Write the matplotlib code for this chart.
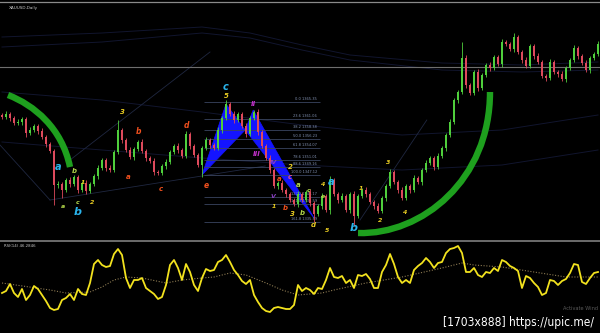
import matplotlib
matplotlib.use('Agg')
import matplotlib.pyplot as plt
from matplotlib.path import Path
from matplotlib.patches import PathPatch, Polygon
import numpy as np

# ---------------- data ----------------
first_open = 125
closes = [123,126,122,117,118,121,107,110,114,109,
          103,96,89,55,56,50,60,56,63,50,
          57,49,56,64,72,80,72,70,88,110,
          100,90,83,91,98,89,82,79,68,67,
          74,78,88,94,90,84,106,94,85,75,
          92,100,95,92,110,122,136,126,120,126,
          114,106,122,128,108,94,82,70,54,57,
          50,46,40,36,46,40,48,37,26,34,
          44,30,60,46,40,44,30,46,24,44,
          50,46,38,34,29,42,54,68,58,50,
          42,54,50,62,58,70,77,82,73,84,
          92,105,118,140,148,182,155,147,168,152,
          165,175,172,183,176,198,196,191,203,188,
          180,174,194,184,178,164,162,178,168,166,
          161,172,180,192,184,177,170,182,186,196]
upper_wick = [2,3,2,2,3,2,2,3,2,2, 3,2,2,2,3,2,2,3,2,2, 2,3,2,2,3,2,2,3,2,10,
              2,2,3,2,2,3,2,2,3,2, 2,3,2,2,3,2,3,2,2,2, 2,3,2,2,3,2,4,2,3,2,
              2,3,2,2,3,2,2,3,2,2, 3,2,2,2,3,2,2,3,2,2, 3,2,4,2,2,3,2,2,3,2,
              2,3,2,2,3,2,2,3,2,2, 3,2,2,3,2,2,3,2,2,3, 2,2,3,2,2,16,3,2,2,3,
              2,2,3,2,2,3,2,2,4,2, 2,3,2,2,3,2,2,3,2,2, 3,2,2,3,2,2,3,2,2,3]
lower_wick = [2,2,3,2,2,3,4,2,2,3, 2,3,2,20,3,8,2,3,2,3, 2,3,2,2,3,2,3,2,2,2,
              3,2,2,3,2,2,3,2,3,2, 2,3,2,2,3,2,2,3,2,2, 12,2,3,2,2,3,2,2,3,2,
              2,3,2,2,3,2,2,3,2,3, 2,3,2,2,3,2,2,3,8,2, 3,2,4,2,3,2,2,3,10,2,
              2,3,2,3,2,2,3,2,2,3, 2,2,3,2,2,3,2,2,3,2, 2,3,2,2,3,2,3,2,2,3,
              2,2,3,2,2,3,2,2,3,2, 3,2,2,3,2,2,3,2,2,3, 2,3,2,2,3,2,2,3,2,2]

rsi = [40,42,49,40,36,44,33,38,47,44, 38,32,25,23,24,33,35,39,33,44,
       39,38,50,69,73,68,66,67,79,84, 78,55,45,53,53,55,45,42,39,34,
       36,48,68,73,65,53,69,61,48,42, 55,64,62,63,71,73,78,71,63,58,
       52,49,53,38,31,25,22,21,25,26, 25,24,24,28,48,42,45,43,39,45,
       44,53,65,56,55,57,50,53,45,58, 57,59,54,45,45,61,68,79,69,56,
       50,53,50,63,67,70,75,71,65,70, 71,80,84,85,87,80,61,61,65,58,
       56,61,60,65,62,73,71,67,65,62, 45,57,55,50,46,38,40,53,52,48,
       52,54,60,69,68,51,49,55,60,61]
rsi_ma_t = [0,12,16,22,25,28,31,35,41,45,50,53,57,61,66,70,74,80,83,91,100,110,115,118,125,133,141,149]
rsi_ma = [50,43,40,41,46,53,56,55,50,53,55,56,60,58,50,43,38,40,43,50,56,65,70,68,66,61,56,56]

# harmonic pattern X A B C D
pat_t = [50, 56, 60.8, 62.8, 78]
pat_p = [65, 136, 110, 130, 22]

fib_p = [138, 121, 110, 101, 92, 80, 73, 65, 43, 36, 18]
fib_labels = ['0.0 1365.35', '23.6 1361.06', '38.2 1358.38', '50.0 1356.23',
              '61.8 1354.07', '78.6 1351.01', '88.6 1349.16', '100.0 1347.12',
              '127.2 1342.17', '141.4 1339.59', '161.8 1335.89']

# wave labels
lab_text = ['a','b','1','a','c','b','2','3','b','a','c','d','c','5','II','III','IV','e',
            '2','a','c','a','c','e','4','a','V','1','b','3','b','d','5','b','1','2','3','4']
lab_t = [14,18,20.2,15.2,18.8,18.8,22.5,30,34.2,31.5,39.8,46.2,56,56,62.8,63.8,67.8,51,
         72,69.2,72,74,76.6,80.2,80.4,82.2,67.8,68,70.8,72.6,75,77.8,81.2,88,89.8,94.5,96.5,100.8]
lab_p = [73,69,58,34,37,28,38,128,108,63,51,114,153,144,136,86,77,54,
         73,61,63,55,49,44,56,58,43,33,32,26,27,15,9,12,52,20,77,28]
CY, YE, OR, LG, MG, PU, PK = '#2ab4ec', '#e8cc22', '#f0501e', '#b4d84a', '#c030c8', '#8a40c0', '#e05090'
lab_col = [CY,LG,YE,LG,LG,CY,YE,YE,OR,OR,OR,OR,CY,YE,MG,MG,PU,OR,
           YE,OR,PK,LG,LG,LG,YE,CY,PU,YE,OR,YE,LG,YE,YE,CY,YE,YE,YE,YE]
lab_size = [7,5,4.5,4.5,4.5,8,4.5,5,5.5,5,5,5.5,7,5,5,5,4.5,5.5,
            5,5,5,5,4.5,4.5,4.5,7,4.5,4.5,5,5,5,5,4.5,8,4.5,4.5,4.5,4.5]

# faint envelope bands and trend lines
band_t = [0, 25, 50, 62, 75, 87, 110, 130, 149]
band1 = [203, 207, 213, 207, 195, 185, 177, 175, 178]
band2 = [193, 198, 207, 202, 190, 180, 170, 168, 170]
band_t2 = [0, 25, 50, 75, 100, 125, 149]
band3 = [148, 140, 128, 115, 105, 110, 125]
band4 = [98, 90, 82, 75, 70, 75, 90]
trend_lines = [((17, 80), (52, 188)), ((-0.5, 95), (12, 40)),
               ((12, 40), (65.8, 74)), ((89.5, 20), (106.2, 120))]

# thick green swing curves (cubic bezier control points)
curve_left = [(1.5, 145), (8, 135), (15, 112), (17, 73)]
curve_right = [(89, 7), (105, 5), (122, 60), (122, 148)]

# ---------------- figure ----------------
fig = plt.figure(figsize=(6, 3.33), dpi=100, facecolor='black')
ax = fig.add_axes([0, 93/333, 1, 240/333], facecolor='black')
ax2 = fig.add_axes([0, 0, 1, 90/333], facecolor='black')
for a in (ax, ax2):
    a.set_xticks([]); a.set_yticks([])
    for s in a.spines.values():
        s.set_visible(False)
    a.set_xlim(-0.5, 149.5)
ax.set_ylim(0, 240)
ax2.set_ylim(0, 90)

n = len(closes)
idx = np.arange(n)
c = np.array(closes, float)
o = np.array([first_open] + closes[:-1], float)
top = np.maximum(o, c); bot = np.minimum(o, c)
hi = top + np.array(upper_wick); lo = bot - np.array(lower_wick)
GREEN, RED = '#4fcf3c', '#de4a5c'
cols = [GREEN if cc >= oo else RED for oo, cc in zip(o, c)]

# faint background lines
for bt, bv in ((band_t, band1), (band_t, band2), (band_t2, band3), (band_t2, band4)):
    ax.plot(bt, bv, color='#11152e', lw=0.7, zorder=0.5)
for (x0, y0), (x1, y1) in trend_lines:
    ax.plot([x0, x1], [y0, y1], color='#1f2740', lw=0.6, zorder=0.6)
ax.axhline(238, color='#8a8a8a', lw=0.9, zorder=0.7)
ax.axhline(173, color='#6e6e6e', lw=0.8, zorder=0.7)

# harmonic pattern
ax.add_patch(Polygon(list(zip(pat_t[0:3], pat_p[0:3])), closed=True,
                     facecolor='#1414ff', edgecolor='#1414ff', lw=0.5, zorder=1))
ax.add_patch(Polygon(list(zip(pat_t[2:5], pat_p[2:5])), closed=True,
                     facecolor='#1414ff', edgecolor='#1414ff', lw=0.5, zorder=1))

# fib levels
ax.hlines(fib_p, 50.5, 79.5, color='#3a4560', lw=0.6, zorder=1.2)
for fp, fl in zip(fib_p, fib_labels):
    ax.text(78.8, fp + 0.8, fl, fontsize=2.6, color='#8090b0', ha='right', va='bottom', zorder=1.3)

# candles
ax.vlines(idx, lo, hi, colors=cols, lw=0.6, zorder=2)
ax.bar(idx, np.maximum(top - bot, 0.8), bottom=bot, width=0.62, color=cols, lw=0, zorder=2.1)

# green curves
for cp in (curve_left, curve_right):
    path = Path(cp, [Path.MOVETO, Path.CURVE4, Path.CURVE4, Path.CURVE4])
    ax.add_patch(PathPatch(path, facecolor='none', edgecolor='#1ea01e', lw=4.6,
                           capstyle='butt', zorder=3))

# wave labels
for t, x, y, col, sz in zip(lab_text, lab_t, lab_p, lab_col, lab_size):
    ax.text(x, y, t, color=col, fontsize=sz, fontweight='bold', fontstyle='italic',
            ha='center', va='center', zorder=4)

ax.text(0.015, 0.975, 'XAUUSD,Daily', transform=ax.transAxes, fontsize=3,
        color='#c8c8c8', ha='left', va='top')

# separator
fig.add_artist(plt.Line2D([0, 1], [92/333, 92/333], color='#8a8a8a', lw=1.1))

# RSI panel
ax2.plot(rsi_ma_t, rsi_ma, color='#8c7a52', lw=0.8, ls=(0, (1, 1.5)), zorder=1)
ax2.plot(idx, rsi, color='#f2e21e', lw=1.3, zorder=2)
ax2.text(0.006, 0.985, 'RSI(14) 46.2846', transform=ax2.transAxes, fontsize=2.8,
         color='#c8c8c8', ha='left', va='top')
ax2.text(0.997, 0.27, 'Activate Wind', transform=ax2.transAxes, fontsize=3.6,
         color='#5a5a5a', ha='right', va='center')
fig.text(0.99, 0.012, '[1703x888] https://upic.me/', fontsize=8.6,
         family='DejaVu Sans', stretch='condensed', color='white',
         ha='right', va='bottom')

fig.savefig('out.png', dpi=100, facecolor='black')
